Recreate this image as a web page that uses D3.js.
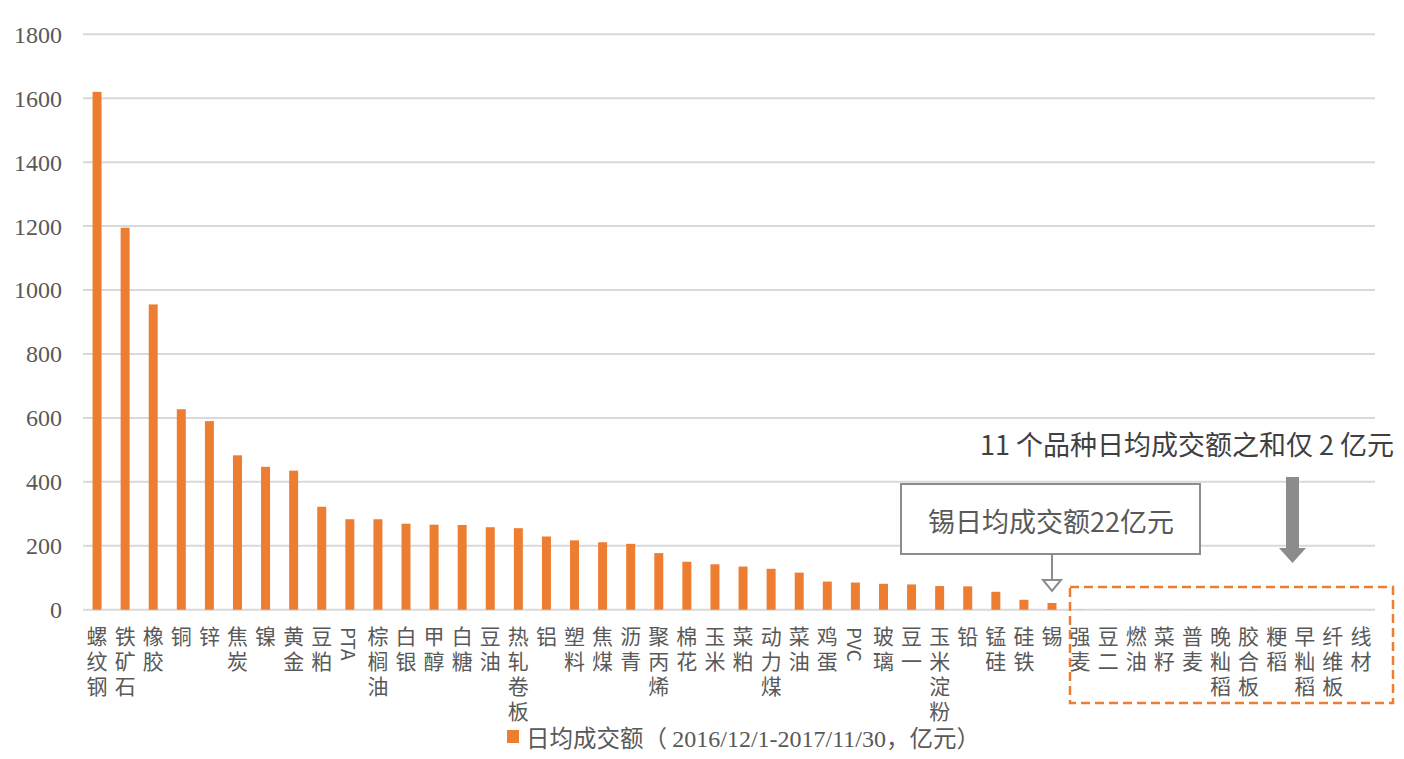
<!DOCTYPE html>
<html><head><meta charset="utf-8">
<script src="https://cdn.jsdelivr.net/npm/d3@7"></script>
<style>body{margin:0;background:#fff}svg{display:block}</style>
</head><body><svg id="c" width="1404" height="759"></svg>
<script>
const categories = ["螺纹钢","铁矿石","橡胶","铜","锌","焦炭","镍","黄金","豆粕","PTA","棕榈油","白银","甲醇","白糖","豆油","热轧卷板","铝","塑料","焦煤","沥青","聚丙烯","棉花","玉米","菜粕","动力煤","菜油","鸡蛋","PVC","玻璃","豆一","玉米淀粉","铅","锰硅","硅铁","锡","强麦","豆二","燃油","菜籽","普麦","晚籼稻","胶合板","粳稻","早籼稻","纤维板","线材"];
const values = [1620,1195,955,627,590,483,447,435,322,283,283,269,266,265,258,255,229,217,211,206,177,150,142,135,128,116,88,85,81,79,74,73,56,31,21,0.6,0.4,0.3,0.2,0.15,0.1,0.1,0.05,0.05,0.03,0.02];
const yTicks = [0,200,400,600,800,1000,1200,1400,1600,1800];
const legendLabel = ["日均成交额（ ","2016/12/1-2017/11/30","，亿元）"];
const tinNote = "锡日均成交额22亿元";
const smallNote = "11 个品种日均成交额之和仅 2 亿元";

const svg = d3.select("#c");
const orange = "#ed7d31", grey = "#595959", boxGrey = "#8c8c8c";
const cjk = "'Noto Sans CJK SC','Noto Sans',sans-serif";
const serif = "'Liberation Serif','DejaVu Serif',serif";

const x = d3.scaleBand().domain(categories).range([83,1375]).paddingInner(0.68).paddingOuter(0.34);
const y = d3.scaleLinear().domain([0,1800]).range([609.7,34.3]);

// gridlines
svg.append("g").selectAll("line").data(yTicks).join("line")
  .attr("x1",83).attr("x2",1375).attr("y1",d=>y(d)).attr("y2",d=>y(d))
  .attr("stroke","#d9d9d9").attr("stroke-width",2);

// y axis labels via axis
const yAxis = svg.append("g").attr("transform","translate(62,0)")
  .call(d3.axisLeft(y).tickValues(yTicks).tickSize(0).tickPadding(0).tickFormat(d3.format("d")));
yAxis.select(".domain").remove();
yAxis.selectAll("text").attr("font-family",serif).attr("font-size",24).attr("fill",grey).attr("dy","0.33em");

// bars
svg.append("g").selectAll("rect").data(categories).join("rect")
  .attr("x",d=>x(d)).attr("width",x.bandwidth())
  .attr("y",(d,i)=>y(values[i])).attr("height",(d,i)=>y(0)-y(values[i]))
  .attr("fill",orange);

// category labels
const lab = svg.append("g");
categories.forEach(c=>{
  const cx = x(c)+x.bandwidth()/2;
  if(/^[A-Za-z]+$/.test(c)){
    lab.append("text").attr("transform",`translate(${cx},627) rotate(90)`)
      .attr("dominant-baseline","central").attr("font-family",cjk).attr("font-size",19)
      .attr("fill",grey).text(c);
  } else {
    const t = lab.append("text").attr("font-family",cjk).attr("font-size",21)
      .attr("fill",grey).attr("text-anchor","middle");
    Array.from(c).forEach((ch,j)=>{
      t.append("tspan").attr("x",cx).attr("y",644+j*25).text(ch);
    });
  }
});

// legend
svg.append("rect").attr("x",507).attr("y",730).attr("width",12).attr("height",13).attr("fill",orange);
const lt = svg.append("text").attr("x",526).attr("y",747).attr("fill",grey);
lt.append("tspan").attr("font-family",cjk).attr("font-size",23.5).text(legendLabel[0]);
lt.append("tspan").attr("font-family",serif).attr("font-size",24).text(legendLabel[1]);
lt.append("tspan").attr("font-family",cjk).attr("font-size",23.5).text(legendLabel[2]);

// tin annotation box
svg.append("rect").attr("x",901).attr("y",484).attr("width",299).attr("height",70)
  .attr("fill","#fff").attr("stroke",boxGrey).attr("stroke-width",2);
svg.append("text").attr("x",1051).attr("y",520).attr("text-anchor","middle").attr("dominant-baseline","central")
  .attr("font-family",cjk).attr("font-size",27).attr("fill",grey).text(tinNote);
const tx = x("锡")+x.bandwidth()/2;
svg.append("line").attr("x1",tx).attr("x2",tx).attr("y1",554).attr("y2",580)
  .attr("stroke",boxGrey).attr("stroke-width",2);
svg.append("path").attr("d",`M${tx-9},580 L${tx+9},580 L${tx},591 Z`)
  .attr("fill","#fff").attr("stroke",boxGrey).attr("stroke-width",2);

// small note
svg.append("text").attr("x",1394).attr("y",443).attr("text-anchor","end").attr("dominant-baseline","central")
  .attr("font-family",cjk).attr("font-size",27).attr("fill","#404040").text(smallNote);

// block arrow
svg.append("path").attr("d","M1286,477 L1299,477 L1299,548 L1306,548 L1292.5,563 L1279,548 L1286,548 Z")
  .attr("fill",boxGrey);

// dashed box around 11 small categories
svg.append("rect").attr("x",1070).attr("y",587).attr("width",323).attr("height",116)
  .attr("fill","none").attr("stroke",orange).attr("stroke-width",2.5).attr("stroke-dasharray","9,5");
</script></body></html>
